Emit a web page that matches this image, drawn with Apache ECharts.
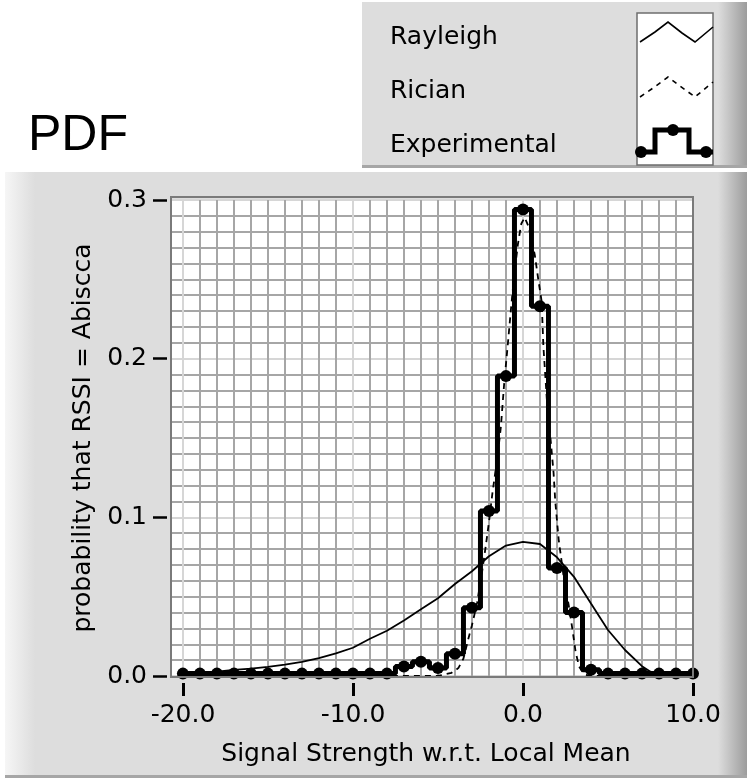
<!DOCTYPE html>
<html>
<head>
<meta charset="utf-8">
<script src="https://cdn.jsdelivr.net/npm/echarts@6/dist/echarts.min.js"></script>
<style>
  html, body { margin: 0; padding: 0; background: #fff; }
  #container { width: 747px; height: 783px; }
</style>
</head>
<body>
<div id="container"></div>
<script>
// axis ranges / tick labels
var xRange = [-20, 10];
var xTickStep = 10;
var yTicks = [0, 0.1, 0.2, 0.3];

// Experimental histogram (one bin per dB)
var expX = [-20, -19, -18, -17, -16, -15, -14, -13, -12, -11, -10, -9, -8,
            -7, -6, -5, -4, -3, -2, -1, 0, 1, 2, 3, 4,
            5, 6, 7, 8, 9, 10];
var expY = [0.0015, 0.0015, 0.0015, 0.0015, 0.0015, 0.0015, 0.0015, 0.0015, 0.0015, 0.0015, 0.0015, 0.0015, 0.0015,
            0.006, 0.009, 0.005, 0.014, 0.043, 0.104, 0.189, 0.294, 0.233, 0.068, 0.040, 0.004,
            0.0015, 0.0015, 0.0015, 0.0015, 0.0015, 0.0015];

// Rayleigh curve
var rayX = [-20, -19, -18, -17, -16, -15, -14, -13, -12, -11, -10, -9, -8, -7, -6, -5, -4, -3, -2, -1,
            0, 1, 2, 3, 4, 5, 6, 7, 7.5, 8, 8.5, 10];
var rayY = [0.0015, 0.002, 0.0028, 0.0038, 0.0047, 0.0058, 0.0072, 0.0089, 0.0112, 0.0142, 0.0178, 0.0235, 0.0285, 0.035, 0.042, 0.049, 0.058, 0.066, 0.0755, 0.0822,
            0.0845, 0.0832, 0.0748, 0.0625, 0.0457, 0.029, 0.0164, 0.0062, 0.0027, 0.0008, 0, 0];

// Rician curve
var ricX = [-20, -5, -4.2, -3.8, -3.5, -3.2, -3.0, -2.7, -2.4, -2.2, -2.0, -1.8, -1.5, -1.3, -1.1, -0.9, -0.7, -0.5, -0.3, -0.1,
            0.1, 0.3, 0.5, 0.7, 0.9, 1.1, 1.2, 1.4, 1.6, 1.8, 1.9, 2.1, 2.4, 2.7, 2.9, 3.1, 3.3, 3.6, 4, 10];
var ricY = [0, 0, 0.002, 0.005, 0.011, 0.024, 0.032, 0.046, 0.066, 0.081, 0.097, 0.115, 0.138, 0.157, 0.185, 0.208, 0.232, 0.254, 0.272, 0.285,
            0.289, 0.284, 0.276, 0.265, 0.25, 0.236, 0.208, 0.175, 0.152, 0.128, 0.11, 0.086, 0.062, 0.044, 0.03, 0.015, 0.006, 0.001, 0, 0];

var legendNames = ['Rayleigh', 'Rician', 'Experimental'];

function zip(xs, ys) {
    var out = [];
    for (var i = 0; i < xs.length; i++) out.push([xs[i], ys[i]]);
    return out;
}

var FONT = 'DejaVu Sans';
var plotL = 171, plotT = 200, plotW = 522, plotH = 476;
// plot area starts 0.7 dB left of -20
var padLeft = 0.7;
var gridBLeft = plotL + Math.round(padLeft / (xRange[1] - xRange[0] + padLeft) * plotW);

var chart = echarts.init(document.getElementById('container'), null, { renderer: 'canvas' });

var option = {
    animation: false,
    backgroundColor: '#ffffff',
    grid: [
        { left: plotL, top: plotT, width: plotW, height: plotH, show: true, z: 5,
          backgroundColor: '#ffffff', borderWidth: 0 },
        { left: gridBLeft, top: plotT, width: plotL + plotW - gridBLeft, height: plotH, z: 5 }
    ],
    xAxis: [
        { type: 'value', gridIndex: 0, min: xRange[0] - padLeft, max: xRange[1], show: false, z: 6 },
        { type: 'value', gridIndex: 1, min: xRange[0], max: xRange[1], interval: xTickStep, z: 6,
          position: 'bottom', offset: 7,
          name: 'Signal Strength w.r.t. Local Mean', nameLocation: 'middle', nameGap: 59,
          nameTextStyle: { fontFamily: FONT, fontSize: 25, color: '#000', padding: [0, 24, 0, 0] },
          axisLine: { show: false, onZero: false },
          axisTick: { show: true, length: 13, lineStyle: { color: '#000', width: 3 } },
          axisLabel: { margin: 20, fontFamily: FONT, fontSize: 25, color: '#000',
                       formatter: function (v) { return v.toFixed(1); } },
          splitLine: { show: true, lineStyle: { color: '#d6d6d6', width: 2 } },
          minorTick: { show: false, splitNumber: 10 },
          minorSplitLine: { show: true, lineStyle: { color: '#a6a6a6', width: 2 } } }
    ],
    yAxis: [
        { type: 'value', gridIndex: 0, min: yTicks[0], max: yTicks[yTicks.length - 1], interval: 0.1, z: 6,
          offset: 4,
          name: 'probability that RSSI = Abiscca', nameLocation: 'middle', nameGap: 68,
          nameTextStyle: { fontFamily: FONT, fontSize: 25, color: '#000' },
          axisLine: { show: false, onZero: false },
          axisTick: { show: true, length: 14, lineStyle: { color: '#000', width: 2.5 } },
          axisLabel: { margin: 20, fontFamily: FONT, fontSize: 25, color: '#000',
                       formatter: function (v) { return v.toFixed(1); } },
          splitLine: { show: true, lineStyle: { color: '#d6d6d6', width: 2 } },
          minorTick: { show: false, splitNumber: 10 },
          minorSplitLine: { show: true, lineStyle: { color: '#a6a6a6', width: 2 } } },
        { type: 'value', gridIndex: 1, min: 0, max: 1, show: false }
    ],
    series: [
        { name: legendNames[0], type: 'line', xAxisIndex: 0, yAxisIndex: 0, z: 10,
          data: zip(rayX, rayY), showSymbol: false, symbol: 'none',
          lineStyle: { color: '#000', width: 1.8 } },
        { name: legendNames[1], type: 'line', xAxisIndex: 0, yAxisIndex: 0, z: 11,
          data: zip(ricX, ricY), showSymbol: false, symbol: 'none',
          lineStyle: { color: '#000', width: 1.8, type: [6, 5] } },
        { name: legendNames[2], type: 'line', xAxisIndex: 0, yAxisIndex: 0, z: 12,
          data: zip(expX, expY), step: 'middle',
          symbol: 'circle', symbolSize: 12, showSymbol: true,
          itemStyle: { color: '#000' },
          lineStyle: { color: '#000', width: 5 } }
    ],
    graphic: [
        // legend panel
        { type: 'rect', z: 1, shape: { x: 362, y: 2, width: 385, height: 166 },
          style: { fill: '#dddddd' } },
        { type: 'rect', z: 1, shape: { x: 718, y: 2, width: 29, height: 166 },
          style: { fill: new echarts.graphic.LinearGradient(0, 0, 1, 0, [
              { offset: 0, color: '#dddddd' }, { offset: 1, color: '#9c9c9c' }]) } },
        { type: 'rect', z: 1, shape: { x: 362, y: 165, width: 385, height: 3 },
          style: { fill: '#a6a6a6' } },
        // main panel
        { type: 'rect', z: 1, shape: { x: 5, y: 172, width: 742, height: 606 },
          style: { fill: '#dddddd' } },
        { type: 'rect', z: 1, shape: { x: 5, y: 172, width: 30, height: 606 },
          style: { fill: new echarts.graphic.LinearGradient(0, 0, 1, 0, [
              { offset: 0, color: '#f6f6f6' }, { offset: 1, color: '#dddddd' }]) } },
        { type: 'rect', z: 1, shape: { x: 718, y: 172, width: 29, height: 606 },
          style: { fill: new echarts.graphic.LinearGradient(0, 0, 1, 0, [
              { offset: 0, color: '#dddddd' }, { offset: 1, color: '#9c9c9c' }]) } },
        { type: 'rect', z: 1, shape: { x: 5, y: 775, width: 742, height: 3 },
          style: { fill: '#a6a6a6' } },
        // title
        { type: 'text', z: 2, left: 28, top: 111,
          style: { text: 'PDF', fontFamily: 'Liberation Sans', fontSize: 50, fill: '#000' } },
        // legend labels
        { type: 'text', z: 2, left: 390, top: 25,
          style: { text: legendNames[0], fontFamily: FONT, fontSize: 25, fill: '#000' } },
        { type: 'text', z: 2, left: 390, top: 79,
          style: { text: legendNames[1], fontFamily: FONT, fontSize: 25, fill: '#000' } },
        { type: 'text', z: 2, left: 390, top: 133,
          style: { text: legendNames[2], fontFamily: FONT, fontSize: 25, fill: '#000' } },
        // legend sample box
        { type: 'rect', z: 2, shape: { x: 637, y: 13, width: 76, height: 152 },
          style: { fill: '#ffffff', stroke: '#6e6e6e', lineWidth: 1.5 } },
        { type: 'polyline', z: 3, shape: { points: [[640, 42], [655, 32], [668, 22], [682, 33], [695, 42], [713, 27]] },
          style: { stroke: '#000', lineWidth: 1.6, fill: null } },
        { type: 'polyline', z: 3, shape: { points: [[640, 97], [656, 86], [668, 77], [680, 86], [695, 97], [713, 82]] },
          style: { stroke: '#000', lineWidth: 1.6, fill: null, lineDash: [5, 5] } },
        { type: 'polyline', z: 3, shape: { points: [[638, 152], [655, 152], [655, 130], [689, 130], [689, 152], [713, 152]] },
          style: { stroke: '#000', lineWidth: 5, fill: null } },
        { type: 'circle', z: 3, shape: { cx: 641, cy: 152, r: 6 }, style: { fill: '#000' } },
        { type: 'circle', z: 3, shape: { cx: 673, cy: 130, r: 6 }, style: { fill: '#000' } },
        { type: 'circle', z: 3, shape: { cx: 706, cy: 152, r: 6 }, style: { fill: '#000' } },
        // plot frame
        { type: 'rect', z: 20, shape: { x: plotL, y: 197, width: plotW, height: 480 },
          style: { fill: null, stroke: '#7a7a7a', lineWidth: 2 } }
    ]
};

chart.setOption(option);
</script>
</body>
</html>
